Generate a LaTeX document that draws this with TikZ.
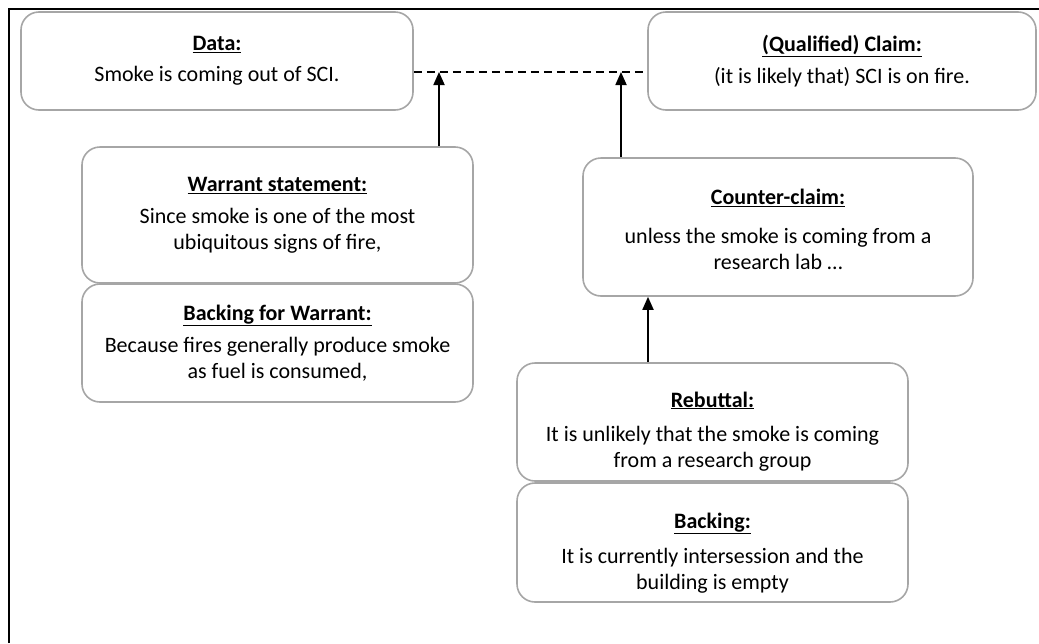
\documentclass[tikz,border=0pt]{standalone}
\usepackage{fontspec}
\setmainfont{Carlito}
\usetikzlibrary{arrows.meta}

\newcommand{\heading}[1]{\underline{\textbf{#1}}}

\begin{document}
\begin{tikzpicture}[x=1pt, y=-1pt,
  box/.style = {shape=rectangle, rounded corners=18pt,
    draw=black!35, line width=1.6pt, align=center, inner sep=0pt,
    font=\fontsize{22}{25.5}\selectfont},
  link/.style = {line width=1.8pt, -{Triangle[width=11pt,length=13pt]}},
  frame/.style = {line width=2.2pt}]
  \useasboundingbox (0,0) rectangle (1039,643);
  \draw[frame] (9,643) -- (9,9) -- (1039,9);

  \node[box, minimum width=392pt, minimum height=98pt] (data) at (217,61)
    {\heading{Data:}\\[6pt] Smoke is coming out of SCI.};
  \node[box, minimum width=388pt, minimum height=98pt] (claim) at (842,61)
    {\heading{(Qualified) Claim:}\\[6pt] (it is likely that) SCI is on fire.};
  \node[box, minimum width=391pt, minimum height=136pt] (warrant) at (277.5,215)
    {\heading{Warrant statement:}\\[7pt] Since smoke is one of the most\\ ubiquitous signs of fire,};
  \node[box, minimum width=391pt, minimum height=118pt] (backwarrant) at (277.5,343)
    {\heading{Backing for Warrant:}\\[7pt] Because fires generally produce smoke\\ as fuel is consumed,};
  \node[box, minimum width=390pt, minimum height=138pt] (counter) at (778,227)
    {\rule{0pt}{20pt}\heading{Counter-claim:}\\[14pt] unless the smoke is coming from a\\ research lab …};
  \node[box, minimum width=391pt, minimum height=118pt] (rebuttal) at (712.5,422)
    {\rule{0pt}{34pt}\heading{Rebuttal:}\\[9pt] It is unlikely that the smoke is coming\\ from a research group};
  \node[box, minimum width=391pt, minimum height=119pt] (backing) at (712.5,542.5)
    {\rule{0pt}{36pt}\heading{Backing:}\\[10pt] It is currently intersession and the\\ building is empty};

  % joins on the dashed line
  \coordinate (j1) at (439,72);
  \coordinate (j2) at (621,72);
  \coordinate (j3) at (648,300);

  \draw[dashed, dash pattern=on 8pt off 5pt, line width=1.6pt]
    (data.east |- j1) -- (claim.west |- j1);
  \draw[link] (warrant.north -| j1) -- (j1);
  \draw[link] (counter.north -| j2) -- (j2);
  \draw[link] (rebuttal.north -| j3) -- (counter.south -| j3);
\end{tikzpicture}
\end{document}
